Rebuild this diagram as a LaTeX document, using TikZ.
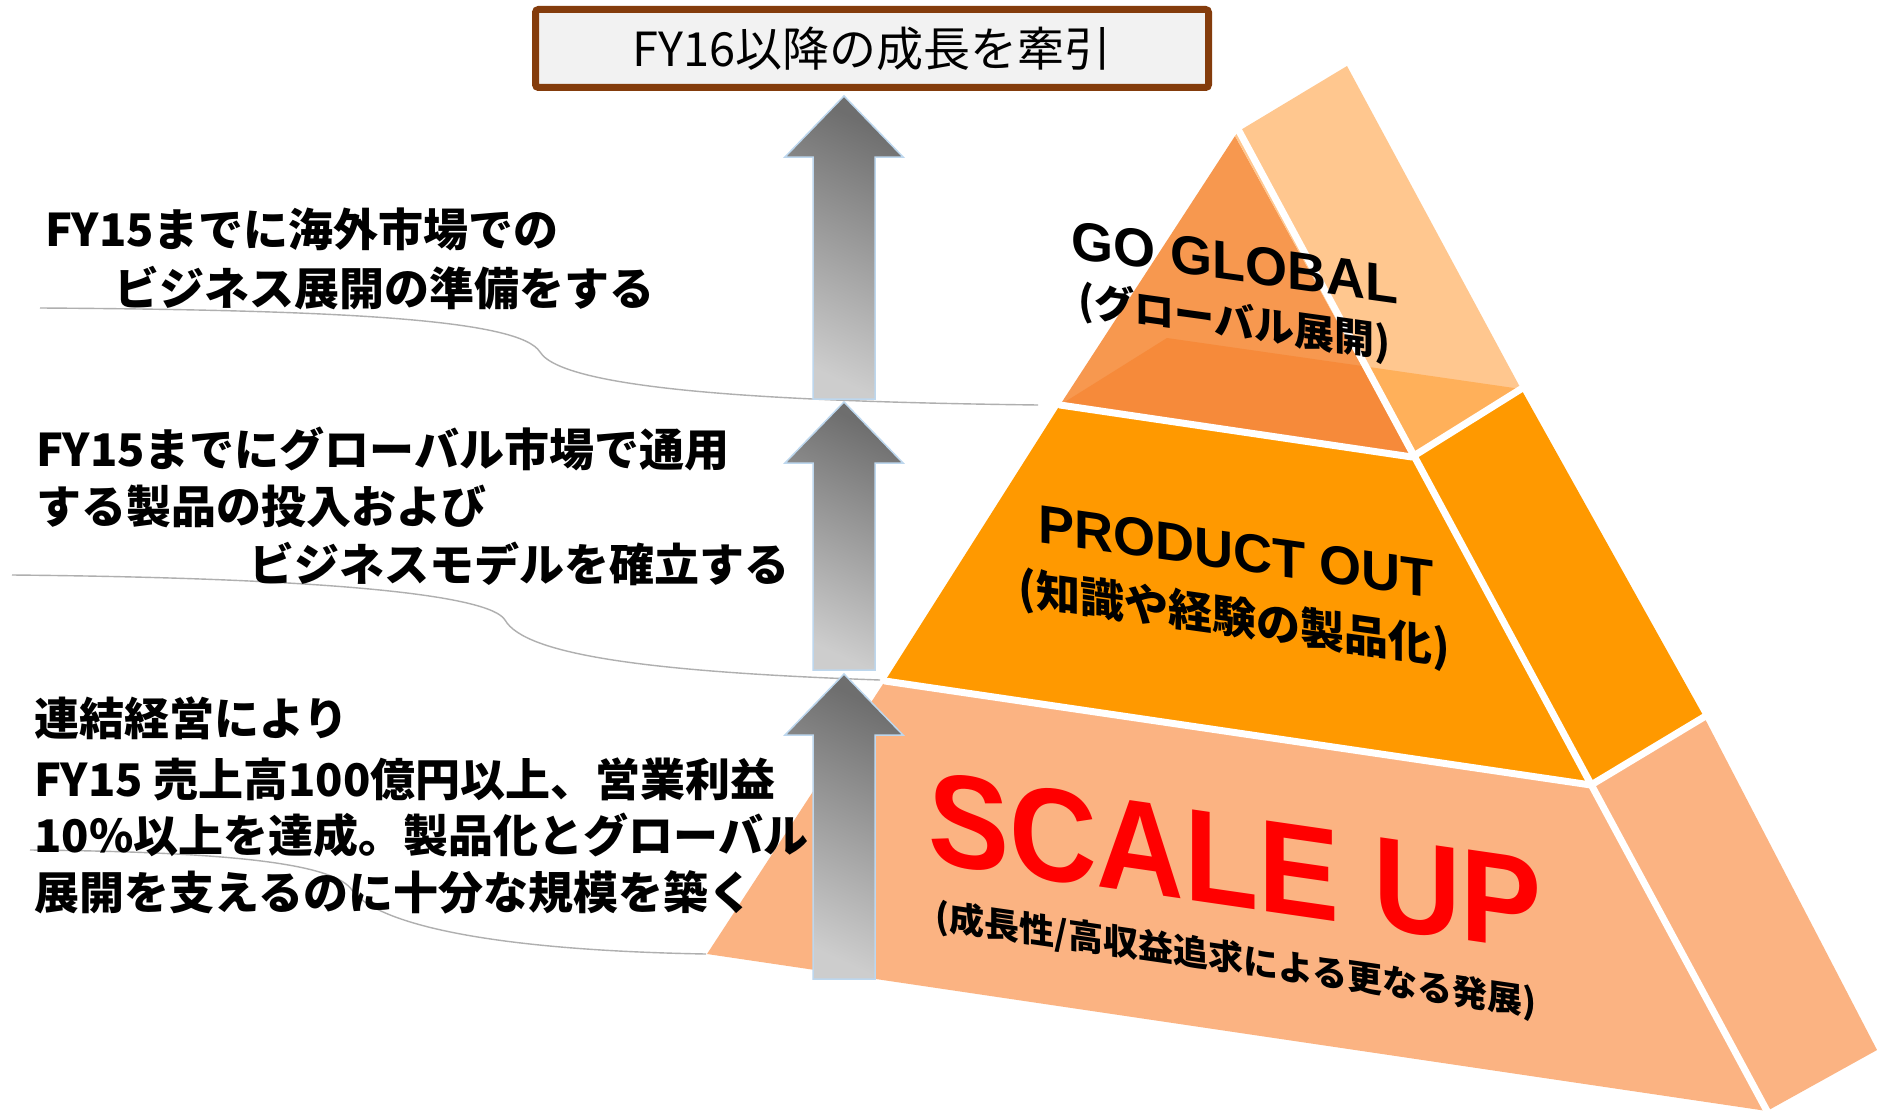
\documentclass[tikz,border=0pt]{standalone}
\usepackage{fontspec}
\setmainfont{Liberation Sans}
\newfontfamily\jp{Noto Sans CJK JP}
\newfontfamily\ar{Liberation Sans}
\definecolor{boxbrown}{HTML}{843C0C}
\definecolor{boxgray}{HTML}{F2F2F2}
\definecolor{topfront}{HTML}{F7984F}
\definecolor{topinner}{HTML}{F68A3A}
\definecolor{topright}{HTML}{FFC78F}
\definecolor{toprightin}{HTML}{FFB05A}
\definecolor{midor}{HTML}{FF9900}
\definecolor{botor}{HTML}{FBB382}
\definecolor{arrline}{HTML}{BDD7EE}
\definecolor{curvegray}{HTML}{AFAFAF}
\definecolor{arrdark}{HTML}{6E6E6E}
\definecolor{arrlight}{HTML}{CDCDCD}
\tikzset{
  lefttext/.style={anchor=base west, inner sep=0pt, font=\jp\bfseries\fontsize{22.5pt}{27pt}\selectfont},
  sepcurve/.style={draw=curvegray, line width=0.7pt},
  blockarrow/.style={draw=arrline, line width=0.75pt, shading=axis, bottom color=arrlight, top color=arrdark, shading angle=-25},
  gap/.style={draw=white, line width=3.5pt, line cap=round, line join=round},
  enlabel/.style={anchor=base, inner sep=0pt, yslant=-0.14, font=\ar\bfseries\fontsize{27pt}{30pt}\selectfont},
  jplabel/.style={anchor=base, inner sep=0pt, yslant=-0.14, font=\jp\bfseries\fontsize{20pt}{24pt}\selectfont}
}
\begin{document}
\begin{tikzpicture}[x=0.5pt,y=-0.5pt]
\useasboundingbox (0,0) rectangle (1877,1113);
\fill[white] (0,0) rectangle (1877,1113);

% pyramid corner points
\coordinate (F) at (1235,136);
\coordinate (TL) at (1239,131);
\coordinate (TA) at (1347,66);
\coordinate (L1) at (1060,405);
\coordinate (M1) at (1412,457);
\coordinate (R1) at (1521,389);
\coordinate (B1) at (1167,338);
\coordinate (P) at (1362,366);
\coordinate (L2) at (885,681);
\coordinate (M2) at (1591,785);
\coordinate (R2) at (1704,717);
\coordinate (L3) at (707,954);
\coordinate (M3) at (1767,1111);
\coordinate (R3) at (1877,1050);

% faces
\fill[botor] (L2) -- (M2) -- (M3) -- (L3) -- cycle;
\fill[botor] (M2) -- (R2) -- (R3) -- (M3) -- cycle;
\fill[midor] (L1) -- (M1) -- (M2) -- (L2) -- cycle;
\fill[midor] (M1) -- (R1) -- (R2) -- (M2) -- cycle;
\fill[topfront] (F) -- (L1) -- (M1) -- cycle;
\fill[topinner] (L1) -- (B1) -- (P) -- (M1) -- cycle;
\fill[topright] (TL) -- (TA) -- (R1) -- (M1) -- (F) -- cycle;
\fill[toprightin] (P) -- (R1) -- (M1) -- cycle;

% white gaps
\draw[gap] (L1) -- (M1) -- (R1);
\draw[gap] (L2) -- (M2) -- (R2);
\draw[gap] (TL) -- (M3);

% separator curves
\draw[sepcurve] (40,308) .. controls (350,310) and (520,320) .. (540,352)
  .. controls (565,392) and (800,402) .. (1038,405);
\draw[sepcurve] (12,575) .. controls (330,578) and (490,595) .. (505,620)
  .. controls (525,655) and (650,672) .. (880,680);
\draw[sepcurve] (30,850) .. controls (250,852) and (335,866) .. (352,890)
  .. controls (375,922) and (480,950) .. (706,954);

% block arrows
\draw[blockarrow] (813,399) -- (813,157) -- (785,157) -- (844,96) -- (903,157) -- (875,157) -- (875,399) -- cycle;
\draw[blockarrow] (813,670) -- (813,463) -- (785,463) -- (844,402) -- (903,463) -- (875,463) -- (875,670) -- cycle;
\draw[blockarrow] (813,979) -- (813,735) -- (785,735) -- (844,674) -- (903,735) -- (875,735) -- (875,979) -- cycle;

% top box
\node[draw=boxbrown, line width=3.5pt, fill=boxgray, minimum width=336.5pt, minimum height=39pt, inner sep=0pt, rounded corners=1.5pt,
  font=\jp\fontsize{23.5pt}{28pt}\selectfont] (goal) at (872,48.5) {FY16以降の成長を牽引};

% left texts
\node[lefttext] (t11) at (45,246) {FY15までに海外市場での};
\node[lefttext] (t12) at (114,305) {ビジネス展開の準備をする};
\node[lefttext] (t21) at (36,466) {FY15までにグローバル市場で通用};
\node[lefttext] (t22) at (36,523) {する製品の投入および};
\node[lefttext] (t23) at (249,581) {ビジネスモデルを確立する};
\node[lefttext] (t31) at (34,735) {連結経営により};
\node[lefttext] (t32) at (34,796) {FY15 売上高100億円以上、営業利益};
\node[lefttext] (t33) at (34,852) {10\%以上を達成。製品化とグローバル};
\node[lefttext] (t34) at (34,909) {展開を支えるのに十分な規模を築く};

% pyramid labels
\node[enlabel] (gg) at (1234.5,281) {GO GLOBAL};
\node[jplabel] (ggs) at (1234.5,336) {(グローバル展開)};
\node[enlabel] (po) at (1236,570) {PRODUCT OUT};
\node[jplabel, font=\jp\bfseries\fontsize{22pt}{26pt}\selectfont] (pos) at (1234,634) {(知識や経験の製品化)};
\node[anchor=base, inner sep=0pt, yslant=-0.145, xscale=0.92, text=red, font=\ar\bfseries\fontsize{66pt}{70pt}\selectfont] (su) at (1235,907) {SCALE UP};
\node[jplabel, yslant=-0.005, font=\jp\bfseries\fontsize{17.5pt}{21pt}\selectfont] (sus) at (1236,972) {(成長性/高収益追求による更なる発展)};
\end{tikzpicture}
\end{document}
